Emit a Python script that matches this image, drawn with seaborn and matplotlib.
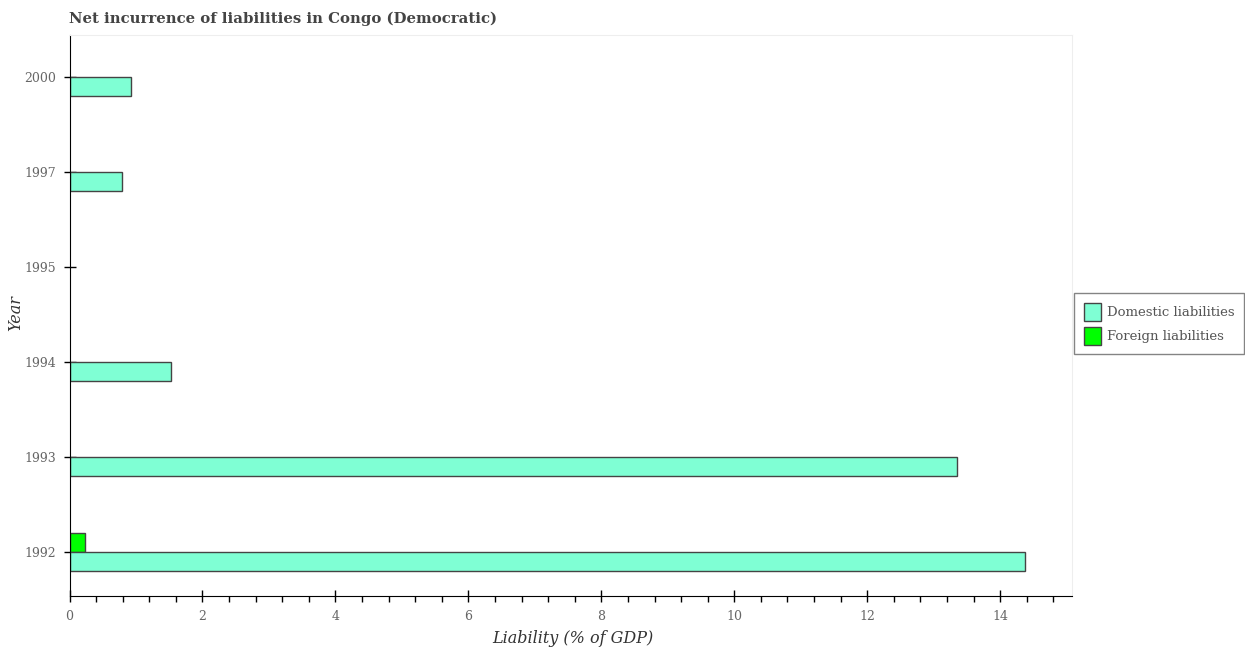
import matplotlib
matplotlib.use('Agg')
import matplotlib.pyplot as plt
import pandas as pd
import seaborn as sns
from matplotlib.ticker import MultipleLocator

years = ['1992', '1993', '1994', '1995', '1997', '2000']
domestic = [14.37, 13.35, 1.53, 0.0, 0.79, 0.92]
foreign = [0.24, 0.0, 0.0, 0.0, 0.0, 0.0]

df = pd.DataFrame({'Year': years, 'Domestic liabilities': domestic, 'Foreign liabilities': foreign})
df = df.melt(id_vars='Year', var_name='kind', value_name='value')

sns.set_style('white')
plt.rcParams['font.family'] = ['DejaVu Serif']

fig = plt.figure(figsize=(12.45, 6.5), dpi=100)
ax = fig.add_axes([69.5 / 1245, 1 - 596 / 650, (1072 - 69.5) / 1245, (596 - 35) / 650])

# foreign goes first so it sits above the tick, like the reference
sns.barplot(data=df, y='Year', x='value', hue='kind', order=years[::-1],
            hue_order=['Foreign liabilities', 'Domestic liabilities'],
            palette={'Domestic liabilities': '#7fffd4', 'Foreign liabilities': '#00ff00'},
            saturation=1, width=0.4, edgecolor='#444444', linewidth=1.0, ax=ax)

ax.set_xlim(0, 15.08)
ax.set_ylim(5.46, -0.44)
ax.set_xticks([0, 2, 4, 6, 8, 10, 12, 14])
ax.xaxis.set_minor_locator(MultipleLocator(0.4))
ax.set_xlabel('Liability (% of GDP)', fontsize=11.5, style='italic', color='#333333', labelpad=5, x=0.502)
ax.set_ylabel('Year', fontsize=11.5, style='italic', color='#333333', labelpad=0, y=0.504)
ax.tick_params(axis='x', labelsize=9, direction='inout', length=8, width=1, color='black', labelcolor='#666666', pad=6, bottom=True)
ax.tick_params(axis='y', labelsize=9, direction='inout', length=9, width=1, color='black', labelcolor='#666666', pad=5, left=True)
ax.tick_params(axis='x', which='minor', direction='out', length=4, width=1, color='black', bottom=True)
for s in ax.spines.values():
    s.set_color('#eeeeee')
ax.spines['left'].set_color('black')
ax.spines['bottom'].set_color('black')

fig.text(69 / 1245, 1 - 19 / 650, 'Net incurrence of liabilities in Congo (Democratic)',
         fontsize=10.75, fontweight='bold', color='#444444', va='center')

handles, labels = ax.get_legend_handles_labels()
fig.legend(handles[::-1], labels[::-1], loc='upper left', bbox_to_anchor=(1074 / 1245, 1 - 293 / 650),
           fontsize=9.5, frameon=True, fancybox=False, edgecolor='#666666', labelcolor='#555555',
           borderpad=0.72, labelspacing=0.45, handlelength=1.29, handleheight=1.75, handletextpad=0.5,
           borderaxespad=0)
ax.get_legend().remove()

# zero values leave no mark in the reference; legend has to be built first
for p in ax.patches:
    if p.get_width() == 0:
        p.set_visible(False)

fig.savefig('out.png', dpi=100)
